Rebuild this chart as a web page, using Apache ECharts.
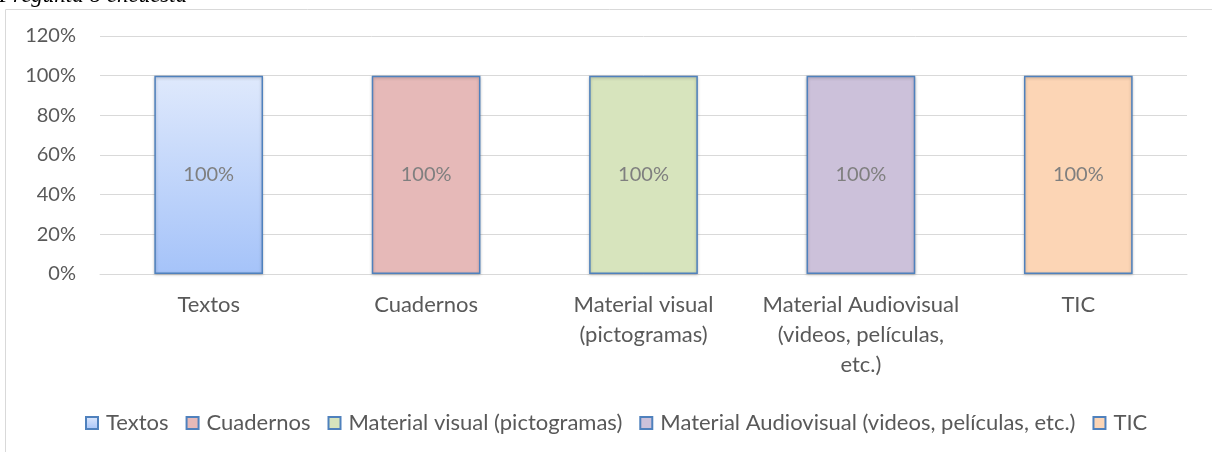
<!DOCTYPE html>
<html>
<head>
<meta charset="utf-8">
<script src="https://cdn.jsdelivr.net/npm/echarts@6/dist/echarts.min.js"></script>
<style>
html,body{margin:0;padding:0;background:#fff;}
#chart{width:1212px;height:452px;}
</style>
</head>
<body>
<div id="chart"></div>
<script>
const categories = ['Textos', 'Cuadernos', 'Material visual (pictogramas)', 'Material Audiovisual (videos, películas, etc.)', 'TIC'];
const tickLabels = ['Textos', 'Cuadernos', 'Material visual\n(pictogramas)', 'Material Audiovisual\n(videos, películas,\netc.)', 'TIC'];
const values = [100, 100, 100, 100, 100];
const yTicks = [0, 20, 40, 60, 80, 100, 120];
const titleText = 'Pregunta 8 encuesta';

const fills = [
  {type:'linear',x:0,y:0,x2:0,y2:1,colorStops:[{offset:0,color:'#DFE9FC'},{offset:1,color:'#A5C3F9'}]},
  '#E6B9B8', '#D7E4BD', '#CCC1DA', '#FCD5B5'
];
const FONT = 'Lato';
const chart = echarts.init(document.getElementById('chart'), null, {renderer:'canvas'});

const series = categories.map((name, i) => ({
  name: name,
  type: 'bar',
  stack: 'all',
  barWidth: '50%',
  data: values.map((v, j) => j === i ? v : '-'),
  itemStyle: {
    color: fills[i],
    borderColor: '#4F81BD',
    borderWidth: 1.5,
    shadowBlur: 3,
    shadowColor: 'rgba(0,0,0,0.25)',
    shadowOffsetY: 1
  },
  label: {
    show: true,
    position: 'inside',
    formatter: '{c}%',
    color: '#7F7F7F',
    fontFamily: FONT,
    fontSize: 20
  }
}));

chart.setOption({
  animation: false,
  textStyle: {fontFamily: FONT},
  graphic: [
    {type:'rect', shape:{x:5.5, y:9.5, width:1400, height:600}, style:{fill:'none', stroke:'#D9D9D9', lineWidth:1}, silent:true},
    {type:'text', x:-1, y:-4, style:{text:titleText, font:'italic 23px "Liberation Serif"', fill:'#000', verticalAlign:'middle'}, silent:true}
  ],
  grid: {left:100, right:25, top:36, bottom:178, containLabel:false},
  legend: {
    left: 80,
    top: 407,
    itemWidth: 12,
    itemHeight: 12,
    itemGap: 17,
    icon: 'rect',
    textStyle: {color:'#595959', fontFamily:FONT, fontSize:22, padding:[0,0,0,3]},
    data: categories
  },
  xAxis: {
    type: 'category',
    data: categories,
    axisTick: {show:false},
    axisLine: {lineStyle:{color:'#D9D9D9', width:1}},
    axisLabel: {
      interval: 0,
      hideOverlap: false,
      color:'#595959', fontFamily:FONT, fontSize:22, margin:16, lineHeight:30,
      formatter: (v, i) => tickLabels[i]
    }
  },
  yAxis: {
    type: 'value',
    min: yTicks[0],
    max: yTicks[yTicks.length-1],
    interval: yTicks[1]-yTicks[0],
    axisLine: {show:false},
    axisTick: {show:false},
    splitLine: {lineStyle:{color:'#D9D9D9', width:1}},
    axisLabel: {color:'#595959', fontFamily:FONT, fontSize:20, margin:24, formatter:'{value}%'}
  },
  series: series
});
</script>
</body>
</html>
